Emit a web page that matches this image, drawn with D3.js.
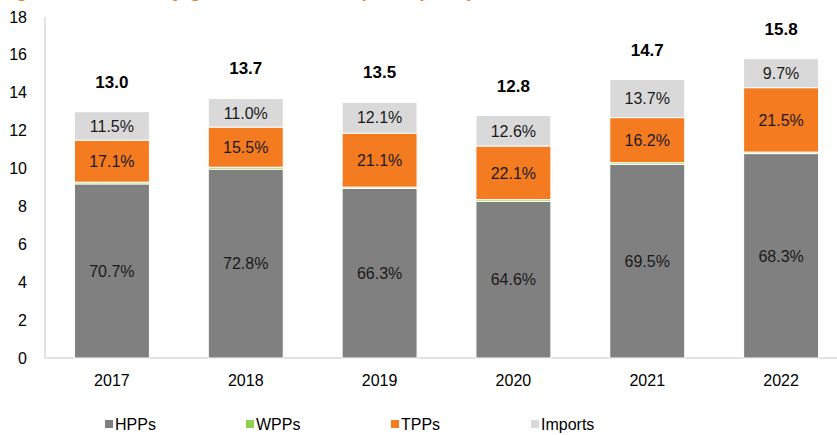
<!doctype html>
<meta charset="utf-8">
<script src="https://d3js.org/d3.v7.min.js"></script>
<style>
  body { margin: 0; background: #fff; }
  svg { display: block; }
  text { font-family: "Liberation Sans", Arial, sans-serif; }
</style>
<body>
<script>

var width = 837;
var height = 435;

// data (TWh)
var years = ["2017", "2018", "2019", "2020", "2021", "2022"];
var hpps = [9.19, 9.97, 8.95, 8.27, 10.22, 10.79];
var wpps = [0.09, 0.10, 0.07, 0.09, 0.09, 0.08];
var tpps = [2.22, 2.12, 2.85, 2.83, 2.38, 3.40];
var imports = [1.50, 1.51, 1.63, 1.61, 2.01, 1.53];
var totals = ["13.0", "13.7", "13.5", "12.8", "14.7", "15.8"];
var hppShare = ["70.7%", "72.8%", "66.3%", "64.6%", "69.5%", "68.3%"];
var tppShare = ["17.1%", "15.5%", "21.1%", "22.1%", "16.2%", "21.5%"];
var impShare = ["11.5%", "11.0%", "12.1%", "12.6%", "13.7%", "9.7%"];
var yTicks = [0, 2, 4, 6, 8, 10, 12, 14, 16, 18];
var seriesNames = ["HPPs", "WPPs", "TPPs", "Imports"];
var seriesColors = ["#808080", "#92d050", "#f47b20", "#d9d9d9"];

var svg = d3.select("body")
        .append("svg")
        .attr("width", width)
        .attr("height", height);

// title, cut off at the top in the reference (only descenders show)
svg.append("text")
        .attr("x", -2)
        .attr("y", -3)
        .style("font-size", "20px")
        .style("font-weight", "bold")
        .style("fill", "#f47b20")
        .text("Figure 1: Electricity generation and imports (TWh)");

var x = d3.scaleBand()
        .domain(years)
        .range([45, 848])
        .paddingInner(0.44)
        .paddingOuter(0.22);

var y = d3.scaleLinear()
        .domain([0, 18])
        .range([358, 17]);

var rows = years.map(function(d, i){
    return {year: d, HPPs: hpps[i], WPPs: wpps[i], TPPs: tpps[i], Imports: imports[i]};
});

var stack = d3.stack().keys(seriesNames);
var layers = stack(rows);

// axes lines
svg.append("line")
        .attr("x1", 45).attr("x2", 45)
        .attr("y1", y(18)).attr("y2", y(0))
        .style("stroke", "#d9d9d9").style("stroke-width", 1.5);
svg.append("line")
        .attr("x1", 45).attr("x2", width)
        .attr("y1", y(0)).attr("y2", y(0))
        .style("stroke", "#d9d9d9").style("stroke-width", 1.5);

svg.selectAll(".ytick")
        .data(yTicks)
        .enter()
        .append("text")
        .attr("x", 27)
        .attr("y", function(d){ return y(d); })
        .attr("dy", "0.35em")
        .attr("text-anchor", "end")
        .style("font-size", "16px")
        .style("fill", "#000")
        .text(function(d){ return d; });

svg.selectAll(".layer")
        .data(layers)
        .enter()
        .append("g")
        .style("fill", function(d, i){ return seriesColors[i]; })
        .selectAll("rect")
        .data(function(d){ return d; })
        .enter()
        .append("rect")
        .attr("x", function(d){ return x(d.data.year); })
        .attr("width", x.bandwidth())
        .attr("y", function(d){ return y(d[1]); })
        .attr("height", function(d){ return y(d[0]) - y(d[1]); })
        .style("stroke", "#fff")
        .style("stroke-width", 1);

// segment labels
function segLabels(layer, labels){
    svg.append("g")
            .selectAll("text")
            .data(layer)
            .enter()
            .append("text")
            .attr("x", function(d){ return x(d.data.year) + x.bandwidth() / 2; })
            .attr("y", function(d){ return (y(d[0]) + y(d[1])) / 2; })
            .attr("dy", "0.36em")
            .attr("text-anchor", "middle")
            .style("font-size", "16px")
            .style("fill", "#1a1a1a")
            .text(function(d, i){ return labels[i]; });
}
segLabels(layers[0], hppShare);
segLabels(layers[2], tppShare);
segLabels(layers[3], impShare);

// totals
svg.selectAll(".total")
        .data(layers[3])
        .enter()
        .append("text")
        .attr("x", function(d){ return x(d.data.year) + x.bandwidth() / 2; })
        .attr("y", function(d){ return y(d[1]) - 24; })
        .attr("text-anchor", "middle")
        .style("font-size", "17px")
        .style("font-weight", "bold")
        .style("fill", "#000")
        .text(function(d, i){ return totals[i]; });

// year labels
svg.selectAll(".year")
        .data(years)
        .enter()
        .append("text")
        .attr("x", function(d){ return x(d) + x.bandwidth() / 2; })
        .attr("y", 386)
        .attr("text-anchor", "middle")
        .style("font-size", "16px")
        .style("fill", "#000")
        .text(function(d){ return d; });

// legend
var legendX = [105, 246, 391, 531];
var legend = svg.selectAll(".legend")
        .data(seriesNames)
        .enter()
        .append("g")
        .attr("transform", function(d, i){ return "translate(" + legendX[i] + ",424)"; });
legend.append("rect")
        .attr("x", 0).attr("y", -4)
        .attr("width", 8).attr("height", 8)
        .style("fill", function(d, i){ return seriesColors[i]; });
legend.append("text")
        .attr("x", 10)
        .attr("dy", "0.36em")
        .style("font-size", "16px")
        .style("fill", "#000")
        .text(function(d){ return d; });

</script>
